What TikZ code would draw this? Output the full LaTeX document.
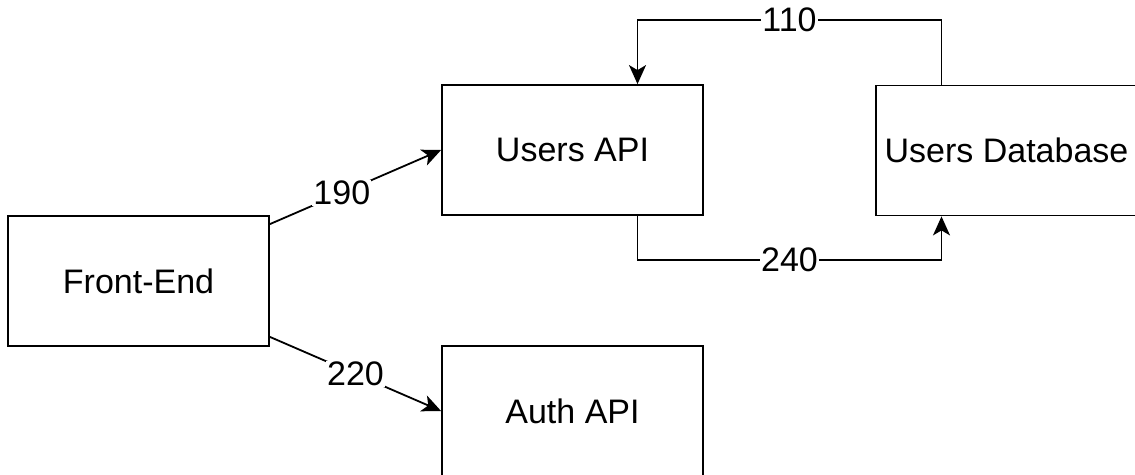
\documentclass[tikz,border=0pt]{standalone}
\usepackage{fontspec}
\setmainfont{Liberation Sans}
\usetikzlibrary{arrows.meta}
\begin{document}
\begin{tikzpicture}[x=1pt,y=-1pt,
  box/.style={draw, line width=1.8pt, minimum width=261pt, minimum height=130pt,
    inner sep=0pt, font=\fontsize{34}{40}\selectfont},
  conn/.style={line width=1.8pt},
  arr/.style={conn, -{Stealth[length=19pt,width=17pt,inset=5pt]}},
  lbl/.style={fill=white, inner sep=1pt, font=\fontsize{34}{40}\selectfont}]
  \useasboundingbox (0,0) rectangle (1135,474);
  \clip (0,0) rectangle (1135,474);

  \node[box] (fe) at (138.5,281) {Front-End};
  \node[box] (ua) at (572.5,150) {Users API};
  \node[box] (aa) at (572.5,411) {Auth API};
  \node[box] (db) at (1006.5,150.5) {Users Database};

  \draw[arr] ([yshift=-9pt]fe.north east) -- node[lbl,pos=0.42]{190} (ua.west);
  \draw[arr] ([yshift=10pt]fe.south east) -- node[lbl,pos=0.5]{220} (aa.west);
  \draw[arr] ([xshift=65pt]ua.south) -- ++(0,44) -| node[lbl,pos=0.25]{240} ([xshift=-65pt]db.south);
  \draw[arr] ([xshift=-65pt]db.north) -- ++(0,-65) -| node[lbl,pos=0.25]{110} ([xshift=65pt]ua.north);
\end{tikzpicture}
\end{document}
